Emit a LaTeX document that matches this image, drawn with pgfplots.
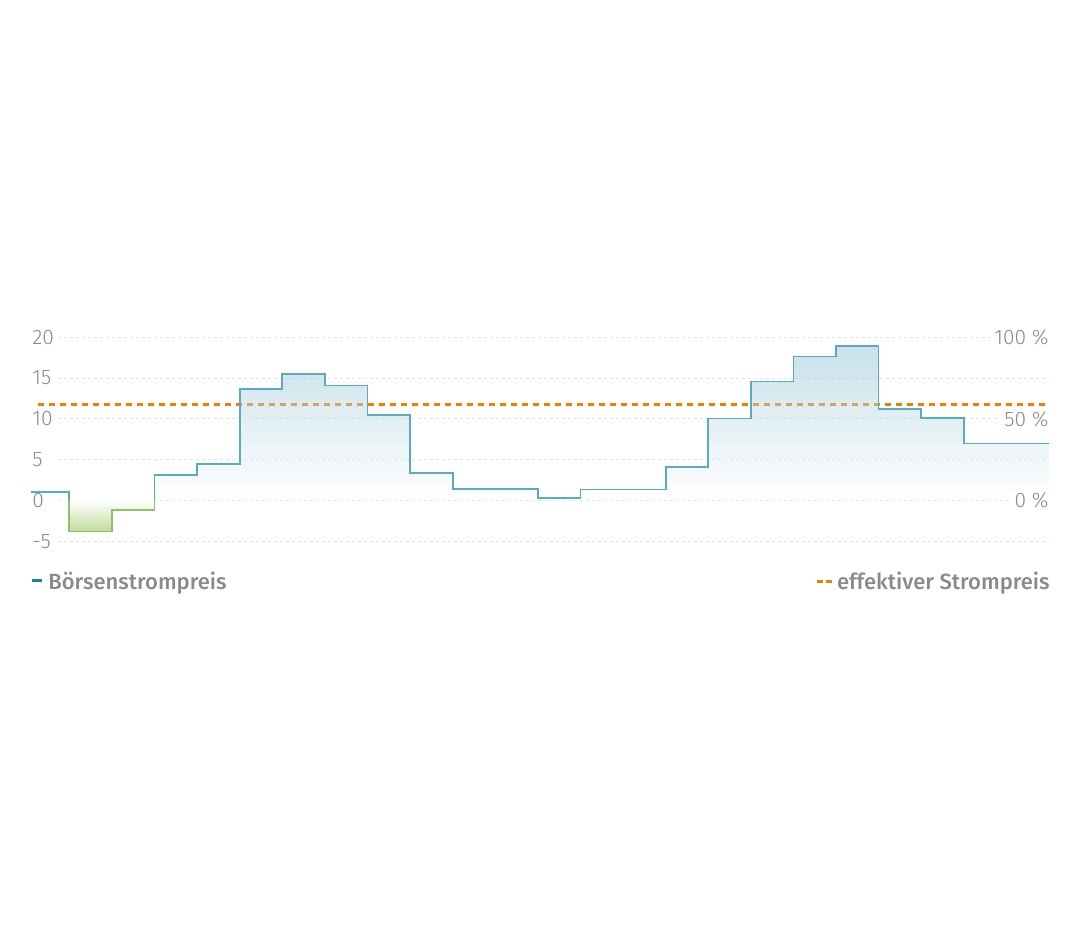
\documentclass[border=0pt]{standalone}
\usepackage{fontspec}
\setmainfont{Fira Sans}
\newfontfamily\legendfont{Fira Sans Medium}
\newfontfamily\tickfont{Fira Sans Light}
\usepackage{pgfplots}
\pgfplotsset{compat=1.18}

\definecolor{linieblau}{HTML}{5AAAC4}
\definecolor{flaecheblau}{HTML}{85BCD0}
\definecolor{liniegruen}{HTML}{8CC16A}
\definecolor{flaechegruen}{HTML}{C3DB9A}
\definecolor{strompreis}{HTML}{F07D00}
\definecolor{legblau}{HTML}{1F7FA6}
\definecolor{textgrau}{HTML}{8A8A8A}
\definecolor{gitter}{HTML}{E4E4E4}

\begin{document}
\begin{tikzpicture}
\path[use as bounding box] (0,0) rectangle (540pt,462.5pt);
\begin{axis}[
    at={(15.5pt,191.85pt)}, anchor=south west,
    scale only axis, width=509pt, height=102pt,
    xmin=0.1, xmax=24, ymin=-5, ymax=20,
    axis lines=none, xtick=\empty, ytick=\empty,
    clip=false,
]
% Gitterlinien
\pgfplotsinvokeforeach{-5,0,5,10,15,20}{
    \draw[gitter, line width=0.5pt, dash pattern=on 1.5pt off 1.5pt]
        (axis cs:0.733,#1) -- (axis cs:24,#1);
}

% effektiver Strompreis
\addplot[strompreis, line width=1.5pt, dash pattern=on 3pt off 2.5pt]
    coordinates {(0.27,11.8) (24,11.8)};

% Flaeche positiv
\addplot[const plot, draw=none, top color=flaecheblau, bottom color=white, fill opacity=0.45]
    coordinates {
    (0.1,1.0) (1,0) (2,0) (3,3.15) (4,4.5) (5,13.7) (6,15.5) (7,14.1)
    (8,10.5) (9,3.35) (10,1.45) (11,1.45) (12,0.3) (13,1.35) (14,1.35)
    (15,4.1) (16,10.05) (17,14.6) (18,17.65) (19,18.9) (20,11.2)
    (21,10.15) (22,7.0) (23,7.0) (24,7.0)
    } \closedcycle;

% Flaeche negativ
\addplot[const plot, draw=none, top color=white, bottom color=flaechegruen]
    coordinates {(1,-3.8) (2,-1.2) (3,-1.2)} \closedcycle;

% Boersenstrompreis
\addplot[const plot, linieblau, line width=0.85pt]
    coordinates {
    (0.1,1.0) (1,-3.8) (2,-1.2) (3,3.15) (4,4.5) (5,13.7) (6,15.5) (7,14.1)
    (8,10.5) (9,3.35) (10,1.45) (11,1.45) (12,0.3) (13,1.35) (14,1.35)
    (15,4.1) (16,10.05) (17,14.6) (18,17.65) (19,18.9) (20,11.2)
    (21,10.15) (22,7.0) (23,7.0) (24,7.0)
    };
\addplot[sharp plot, liniegruen, line width=0.85pt]
    coordinates {(1,0) (1,-3.8) (2,-3.8) (2,-1.2) (3,-1.2) (3,0)};

% Achsenbeschriftung
\pgfplotsinvokeforeach{-5,0,5,10,15,20}{
    \node[anchor=west, inner sep=0pt, xshift=0.5pt, text=textgrau, font=\tickfont\fontsize{10.5}{10.5}\selectfont]
        at (axis cs:0.1,#1) {#1};
}
\node[anchor=east, fill=white, inner xsep=2pt, inner ysep=1pt, xshift=2pt, text=textgrau, font=\tickfont\fontsize{10.5}{10.5}\selectfont]
    at (axis cs:24,20) {100 \%};
\node[anchor=east, fill=white, inner xsep=2pt, inner ysep=1pt, xshift=2pt, text=textgrau, font=\tickfont\fontsize{10.5}{10.5}\selectfont]
    at (axis cs:24,10) {50 \%};
\node[anchor=east, fill=white, inner xsep=2pt, inner ysep=1pt, xshift=2pt, text=textgrau, font=\tickfont\fontsize{10.5}{10.5}\selectfont]
    at (axis cs:24,0) {0 \%};
\end{axis}

% Legende
\draw[legblau, line width=1.5pt] (16pt,172pt) -- (21pt,172pt);
\node[anchor=base west, inner sep=0pt, text=textgrau, font=\legendfont\fontsize{11}{11}\selectfont]
    at (24pt,167.75pt) {Börsenstrompreis};
\draw[strompreis, line width=1.5pt] (408.5pt,171.65pt) -- (411.5pt,171.65pt);
\draw[strompreis, line width=1.5pt] (413pt,171.65pt) -- (416pt,171.65pt);
\node[anchor=base east, inner sep=0pt, text=textgrau, font=\legendfont\fontsize{11}{11}\selectfont]
    at (525pt,167.75pt) {effektiver Strompreis};
\end{tikzpicture}
\end{document}
